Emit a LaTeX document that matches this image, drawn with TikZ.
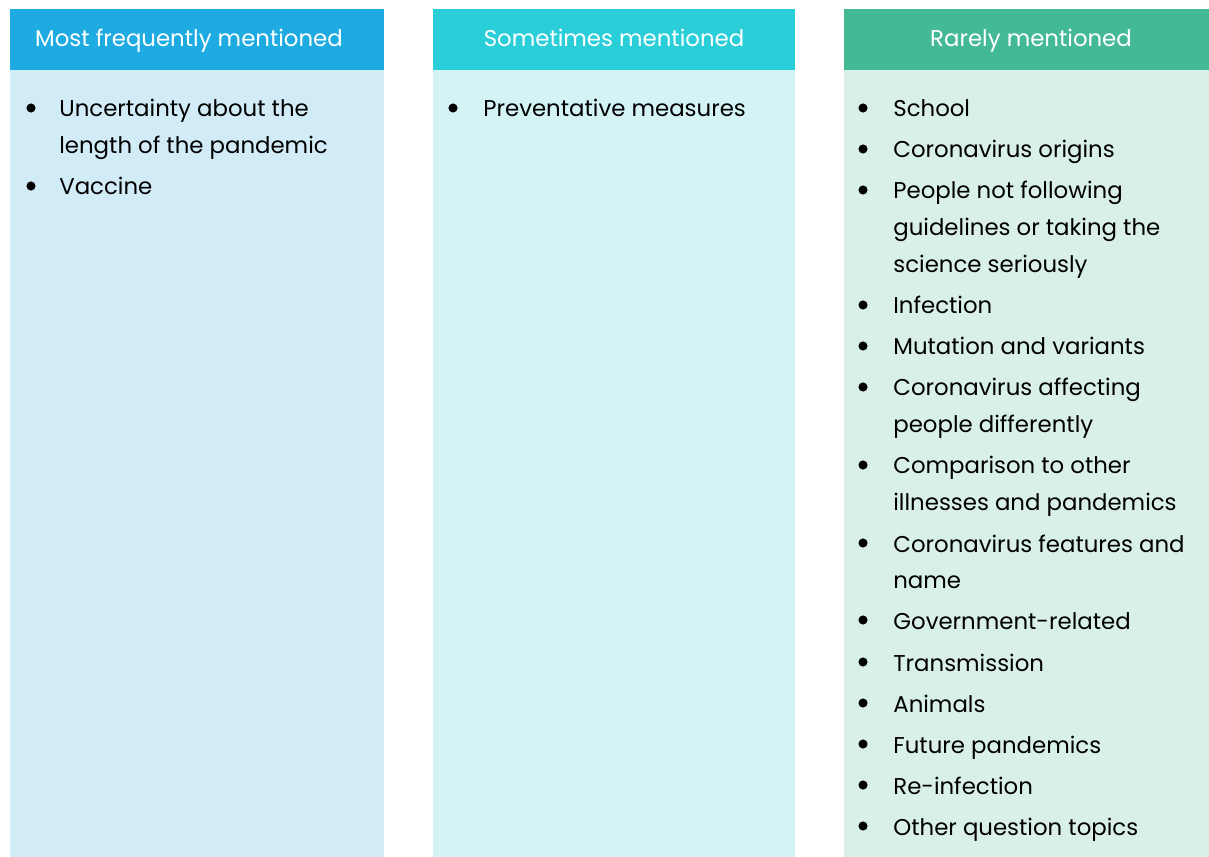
\documentclass[tikz,border=0pt]{standalone}
\usepackage{fontspec}
\setmainfont{Poppins}
\definecolor{hdrblue}{HTML}{1EABE2}
\definecolor{bodyblue}{HTML}{D2ECF7}
\definecolor{hdrcyan}{HTML}{29CED8}
\definecolor{bodycyan}{HTML}{D4F3F5}
\definecolor{hdrgreen}{HTML}{43B996}
\definecolor{bodygreen}{HTML}{D9F0EA}
% wrapped item, baseline on its first line
\newcommand{\wrapped}[2]{\vtop{\hbox{#1}\hbox{#2}}}
\newcommand{\wrappedthree}[3]{\vtop{\hbox{#1}\hbox{#2}\hbox{#3}}}
\begin{document}
\begin{tikzpicture}[x=0.02cm,y=-0.02cm,
  head/.style={text=white,anchor=base,inner sep=0pt,font=\fontsize{13}{16}\selectfont},
  item/.style={anchor=base west,inner sep=0pt,font=\fontsize{13}{21}\selectfont}]
	\useasboundingbox (0,0) rectangle (1209,857);
	% columns
	\fill[bodyblue] (10,70) rectangle (384,857);
	\fill[hdrblue] (10,9) rectangle (384,70);
	\fill[bodycyan] (433,70) rectangle (795,857);
	\fill[hdrcyan] (433,9) rectangle (795,70);
	\fill[bodygreen] (844,70) rectangle (1209,857);
	\fill[hdrgreen] (844,9) rectangle (1209,70);
	% headers
	\node[head] (headA) at (189,47) {Most frequently mentioned};
	\node[head] (headB) at (614,47) {Sometimes mentioned};
	\node[head] (headC) at (1031,47) {Rarely mentioned};
	% most frequently
	\fill (31,108) circle (2.6pt);
	\node[item] (itemA1) at (59,117) {\wrapped{Uncertainty about the}{length of the pandemic}};
	\fill (31,186) circle (2.6pt);
	\node[item] (itemA2) at (59,195) {Vaccine};
	% sometimes
	\fill (453,108) circle (2.6pt);
	\node[item] (itemB1) at (483,117) {Preventative measures};
	% rarely
	\fill (863,108) circle (2.6pt);
	\node[item] (itemC1) at (893,117) {School};
	\fill (863,149) circle (2.6pt);
	\node[item] (itemC2) at (893,158) {Coronavirus origins};
	\fill (863,190) circle (2.6pt);
	\node[item] (itemC3) at (893,199) {\wrappedthree{People not following}{guidelines or taking the}{science seriously}};
	\fill (863,305) circle (2.6pt);
	\node[item] (itemC4) at (893,314) {Infection};
	\fill (863,346) circle (2.6pt);
	\node[item] (itemC5) at (893,355) {Mutation and variants};
	\fill (863,387) circle (2.6pt);
	\node[item] (itemC6) at (893,396) {\wrapped{Coronavirus affecting}{people differently}};
	\fill (863,465) circle (2.6pt);
	\node[item] (itemC7) at (893,474) {\wrapped{Comparison to other}{illnesses and pandemics}};
	\fill (863,543) circle (2.6pt);
	\node[item] (itemC8) at (893,552) {\wrapped{Coronavirus features and}{name}};
	\fill (863,620) circle (2.6pt);
	\node[item] (itemC9) at (893,629) {Government-related};
	\fill (863,662) circle (2.6pt);
	\node[item] (itemC10) at (893,671) {Transmission};
	\fill (863,703) circle (2.6pt);
	\node[item] (itemC11) at (893,712) {Animals};
	\fill (863,744) circle (2.6pt);
	\node[item] (itemC12) at (893,753) {Future pandemics};
	\fill (863,785) circle (2.6pt);
	\node[item] (itemC13) at (893,794) {Re-infection};
	\fill (863,826) circle (2.6pt);
	\node[item] (itemC14) at (893,835) {Other question topics};
\end{tikzpicture}
\end{document}
